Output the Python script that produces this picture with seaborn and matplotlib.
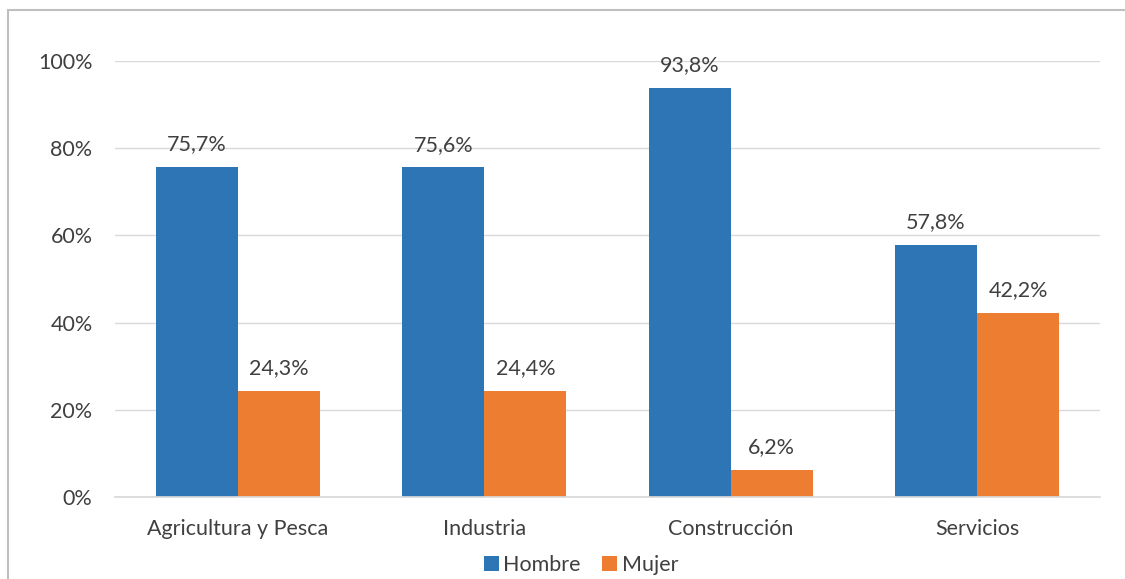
import pandas as pd
import seaborn as sns
import matplotlib.pyplot as plt
from matplotlib.patches import Rectangle
from matplotlib.ticker import PercentFormatter

# === DATA ===
sectores = ["Agricultura y Pesca", "Industria", "Construcción", "Servicios"]
hombre = [75.7, 75.6, 93.8, 57.8]
mujer = [24.3, 24.4, 6.2, 42.2]
y_ticks = [0, 20, 40, 60, 80, 100]

df = pd.DataFrame({
    "Sector": sectores * 2,
    "Sexo": ["Hombre"] * len(sectores) + ["Mujer"] * len(sectores),
    "Valor": hombre + mujer,
})

# === STYLE ===
sns.set_theme(style="white")
plt.rcParams["font.family"] = ["Lato", "DejaVu Sans"]
palette = {"Hombre": "#2E75B6", "Mujer": "#ED7D31"}
fs = 15.5

fig = plt.figure(figsize=(11.25, 5.79), dpi=100)
ax = fig.add_axes([0.102, 0.1416, 0.876, 0.753])

# chart frame like the spreadsheet chart area
fig.patches.append(Rectangle((8 / 1125, -0.01), 1.02, 0.9927, transform=fig.transFigure,
                             fill=False, edgecolor="#BFBFBF", linewidth=1.5))

sns.barplot(data=df, x="Sector", y="Valor", hue="Sexo", palette=palette,
            width=0.667, saturation=1, linewidth=0, ax=ax, legend=True)

for container in ax.containers:
    ax.bar_label(container, labels=[f"{v:.1f}%".replace(".", ",") for v in container.datavalues],
                 padding=9, fontsize=fs, color="#404040")

ax.set_ylim(0, 100)
ax.set_yticks(y_ticks)
ax.yaxis.set_major_formatter(PercentFormatter(decimals=0))
ax.set_xlim(-0.5, 3.5)
ax.grid(axis="y", color="#D9D9D9", linewidth=1)
ax.set_axisbelow(True)
for s in ["top", "right", "left"]:
    ax.spines[s].set_visible(False)
ax.spines["bottom"].set_color("#D9D9D9")
ax.tick_params(axis="both", length=0, labelsize=fs, colors="#404040")
ax.tick_params(axis="x", pad=16)
ax.tick_params(axis="y", pad=16)
ax.set_xlabel("")
ax.set_ylabel("")

ax.legend(loc="center", bbox_to_anchor=(0.473, -0.155), ncol=2, frameon=False,
          fontsize=fs, handlelength=0.7, handleheight=0.7, handletextpad=0.2,
          columnspacing=1.0, labelcolor="#404040")

fig.savefig("out.png", dpi=100)
